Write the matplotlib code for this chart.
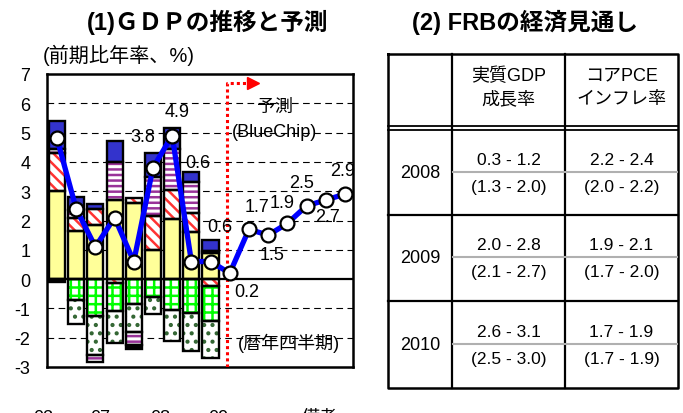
import matplotlib
matplotlib.use('Agg')
import matplotlib.pyplot as plt
import numpy as np

plt.rcParams['font.family'] = ['Liberation Sans', 'Noto Sans CJK JP']
plt.rcParams['hatch.linewidth'] = 1.8
plt.rcParams['axes.unicode_minus'] = False

# quarterly real GDP (annualised q/q %), actual then BlueChip forecast
gdp = [4.8, 2.4, 1.1, 2.1, 0.6, 3.8, 4.9, 0.6, 0.6, 0.2, 1.7, 1.5, 1.9, 2.5, 2.7, 2.9]
labelled = [5, 6, 7, 8, 9, 10, 11, 12, 13, 14, 15]

# contributions to growth for the nine actual quarters
consumption = [3.0, 1.65, 1.85, 2.7, 2.6, 1.0, 2.05, 1.6, 0.9]
exports_pos = [1.3, 0.45, 0.55, 0.0, 0.18, 1.15, 1.0, 0.65, 0.0]
equipment_pos = [0.15, 0.25, 0.0, 1.3, 0.0, 1.35, 1.4, 1.05, 0.05]
government = [0.95, 0.45, 0.15, 0.7, 0.0, 0.8, 0.7, 0.37, 0.38]
other_neg = [-0.1, 0, 0, 0, 0, 0, 0, 0, 0]
exports_neg = [0, 0, 0, -0.12, 0, 0, 0, 0, -0.25]
housing = [0, -0.72, -1.27, -0.98, -0.85, -0.6, -1.05, -1.17, -1.19]
inventories = [0, -0.8, -1.33, -1.08, -0.95, -0.6, -1.05, -1.3, -1.25]
equipment_neg = [0, 0, -0.22, 0, -0.45, 0, 0, 0, 0]
other_neg2 = [0, 0, 0, 0, -0.15, 0, 0, 0, 0]

# FRB central tendency projections (previous in brackets)
years = ['2008', '2009', '2010']
gdp_range = ['0.3 - 1.2', '2.0 - 2.8', '2.6 - 3.1']
gdp_prev = ['(1.3 - 2.0)', '(2.1 - 2.7)', '(2.5 - 3.0)']
pce_range = ['2.2 - 2.4', '1.9 - 2.1', '1.7 - 1.9']
pce_prev = ['(2.0 - 2.2)', '(1.7 - 2.0)', '(1.7 - 1.9)']
col_heads = [('実質GDP', '成長率'), ('コアPCE', 'インフレ率')]

# where the value labels sit
label_xy = {5: (4.48, 4.85), 6: (6.25, 5.73), 7: (7.34, 3.99), 8: (8.49, 1.81),
            9: (9.9, -0.41), 10: (10.42, 2.49), 11: (11.2, 0.85), 12: (11.72, 2.63),
            13: (12.76, 3.31), 14: (14.1, 2.15), 15: (14.9, 3.69)}

fig = plt.figure(figsize=(6.83, 4.14), dpi=100)
ax = fig.add_axes([47 / 683, 46 / 414, 306 / 683, 293 / 414])

xb = np.arange(len(consumption))
w = 0.84


def draw_stack(layers):
    base = np.zeros(len(xb))
    for vals, face, hcolor, hatch in layers:
        vals = np.asarray(vals, dtype=float)
        m = vals != 0
        if hatch:
            ax.bar(xb[m], vals[m], bottom=base[m], width=w, color=face,
                   edgecolor=hcolor, hatch=hatch, lw=0, zorder=2)
        else:
            ax.bar(xb[m], vals[m], bottom=base[m], width=w, color=face, lw=0, zorder=2)
        ax.bar(xb[m], vals[m], bottom=base[m], width=w, fill=False,
               edgecolor='black', lw=1.7, zorder=3)
        base += vals


draw_stack([
    (consumption, '#ffff99', None, None),
    (exports_pos, 'white', '#ff3333', '\\\\\\'),
    (equipment_pos, 'white', '#993399', '---'),
    (government, '#3333cc', None, None),
])
draw_stack([
    (other_neg, 'black', None, None),
    (exports_neg, 'white', '#ff3333', '\\\\\\'),
    (housing, 'white', '#00ff00', '++'),
    (inventories, 'white', '#336633', '..'),
    (equipment_neg, 'white', '#993399', '---'),
    (other_neg2, 'black', None, None),
])

for g in [1, 2, 3, 4, 5, 6, -1, -2]:
    ax.axhline(g, color='black', lw=0.8, dashes=(6, 4), zorder=1)
ax.axhline(0, color='black', lw=1.6, zorder=3)

xs = np.arange(len(gdp))
ax.plot(xs, gdp, color='#0000ff', lw=3.8, marker='o', ms=10, mfc='white',
        mec='black', mew=1.6, zorder=5)
for i in labelled:
    lx, ly = label_xy[i]
    ax.text(lx, ly, f'{gdp[i]:.1f}', ha='center', va='center', fontsize=13, zorder=6)

# forecast marker
ax.plot([8.85, 8.85, 10.0], [-3, 6.68, 6.68], color='red', lw=2.2,
        linestyle=(0, (1, 1)), zorder=4)
ax.plot([10.2], [6.68], marker='>', color='red', ms=8, zorder=4)
ax.text(11.35, 5.9, '予測', ha='center', va='center', fontsize=13)
ax.text(11.35, 5.05, '(BlueChip)', ha='center', va='center', fontsize=13)
ax.text(12.1, -2.15, '(暦年四半期)', ha='center', va='center', fontsize=13)

ax.set_xlim(-0.52, 15.42)
ax.set_ylim(-3, 7)
ax.set_yticks(range(-3, 8))
ax.set_xticks([])
ax.tick_params(axis='y', length=0, pad=12, labelsize=13)
for s in ax.spines.values():
    s.set_linewidth(1.8)

fig.text(208 / 683, 1 - 22 / 414, '(1)ＧＤＰの推移と予測', ha='center', va='center',
         fontsize=17, fontweight='bold')
fig.text(43 / 683, 1 - 55 / 414, '(前期比年率、%)', ha='left', va='center', fontsize=14.5)
fig.text(525 / 683, 1 - 22 / 414, '(2) FRBの経済見通し', ha='center', va='center',
         fontsize=17, fontweight='bold')

for tx, t in [(43, '03'), (100, '07'), (160, '08'), (218, '09'), (320, '備考')]:
    fig.text(tx / 683, 4 / 414, t, ha='center', va='top', fontsize=13)

# projection table drawn in pixel space
tab = fig.add_axes([0, 0, 1, 1], zorder=-1)
tab.set_xlim(0, 683)
tab.set_ylim(414, 0)
tab.axis('off')

left, c1, c2, right = 388, 452, 565, 678
top, head1, head2, bottom = 55, 127, 131, 389
row_lines = [216, 302]
row_mid = [173.5, 259, 345.5]

tab.plot([left, right, right, left, left], [top, top, bottom, bottom, top], color='black', lw=1.8)
for cx in [c1, c2]:
    tab.plot([cx, cx], [top, bottom], color='black', lw=1.6)
for hy in [head1, head2]:
    tab.plot([left, right], [hy, hy], color='black', lw=1.3)
for ry in row_lines:
    tab.plot([left, right], [ry, ry], color='black', lw=1.6)

col_mid = [(c1 + c2) / 2, (c2 + right) / 2]
for cm, (h1, h2) in zip(col_mid, col_heads):
    tab.text(cm, 76, h1, ha='center', va='center', fontsize=13)
    tab.text(cm, 100, h2, ha='center', va='center', fontsize=13)

for i, yr in enumerate(years):
    ym = row_mid[i]
    tab.text((left + c1) / 2, ym, yr, ha='center', va='center', fontsize=13)
    tab.plot([c1 + 1, right - 1], [ym - 1, ym - 1], color='#b0b0b0', lw=1.5)
    tab.text(col_mid[0], ym - 13, gdp_range[i], ha='center', va='center', fontsize=12.5)
    tab.text(col_mid[0], ym + 14, gdp_prev[i], ha='center', va='center', fontsize=12.5)
    tab.text(col_mid[1], ym - 13, pce_range[i], ha='center', va='center', fontsize=12.5)
    tab.text(col_mid[1], ym + 14, pce_prev[i], ha='center', va='center', fontsize=12.5)

fig.savefig('out.png', dpi=100)
